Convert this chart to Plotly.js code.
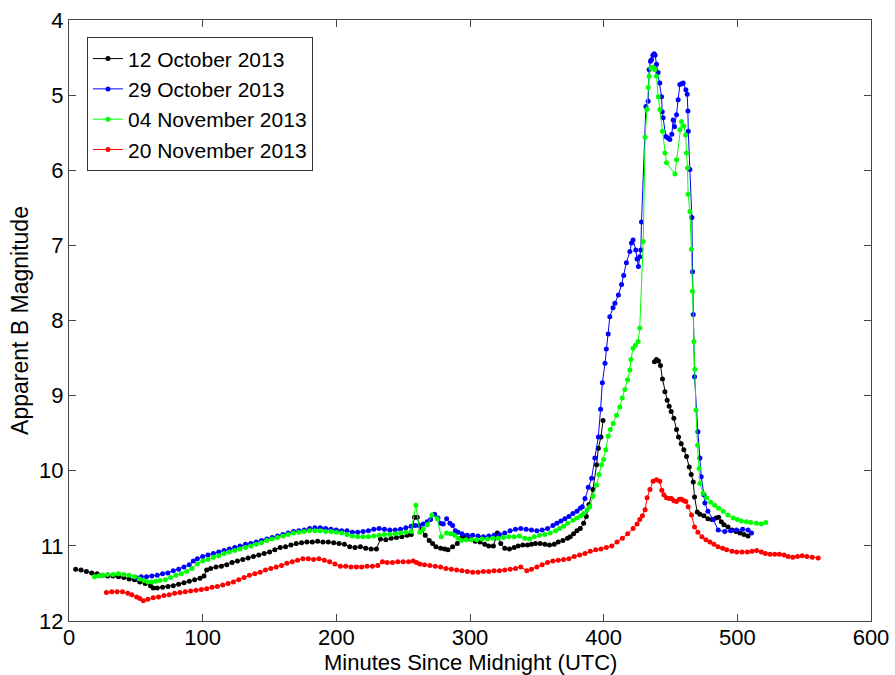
<!DOCTYPE html>
<html>
<head>
<meta charset="utf-8">
<script src="https://cdn.plot.ly/plotly-3.0.1.min.js"></script>
<style>html,body{margin:0;padding:0;background:#fff;}#chart{width:895px;height:675px;}</style>
</head>
<body>
<div id="chart"></div>
<script>
// 12 October 2013
const xOct12 = [5,9,13,17,21,25,29,33,37,41,45,49,53,57,61,63,66,70,74,78,82,86,90,94,98,101,103,106,110,114,118,122,126,130,134,138,142,146,150,154,158,162,166,170,174,178,182,186,190,194,198,202,206,210,214,218,222,226,230,233,237,241,245,249,253,256,258.5,260.5,263.5,266.5,269.5,272,274.5,278,281,283.5,287,290.5,293.5,296.5,300,304,307.5,311,314,317.5,320.5,323,326,329.5,333,336,339.5,343,346,349,352.5,356,359.5,363,366,369.5,373,375,377.5,380,382.5,385,387,389,392,394.7,396,398,399.5,null,438,439.5,441,442.5,444,445.8,447.5,449,450.5,452.5,454.5,456,458,460,462,464,465.5,467,468,470,472,475,478,481,484,486,488,490,493,496,499,502,505,508];
const yOct12 = [11.31,11.32,11.34,11.36,11.37,11.39,11.40,11.40,11.41,11.42,11.44,11.45,11.48,11.50,11.53,11.56,11.56,11.55,11.54,11.53,11.51,11.49,11.47,11.45,11.43,11.40,11.32,11.30,11.28,11.27,11.25,11.22,11.20,11.18,11.16,11.14,11.12,11.10,11.08,11.05,11.02,11.01,10.99,10.97,10.96,10.95,10.95,10.94,10.95,10.95,10.96,10.97,10.98,11.01,11.02,11.01,11.03,11.04,11.04,10.91,10.92,10.90,10.89,10.88,10.86,10.85,10.62,10.62,10.78,10.86,10.93,10.97,11.01,11.03,11.04,11.05,11.01,10.97,10.90,10.87,10.91,10.94,10.95,10.98,11.00,11.00,10.83,10.97,11.03,11.04,11.02,11.00,10.99,10.99,10.98,10.97,10.97,10.98,10.99,10.98,10.95,10.93,10.90,10.88,10.84,10.80,10.77,10.70,10.61,10.45,10.25,9.92,9.70,9.55,9.33,null,8.55,8.52,8.54,8.60,8.78,8.95,9.06,9.14,9.21,9.30,9.45,9.55,9.64,9.72,9.81,9.95,10.05,10.15,10.35,10.55,10.58,10.60,10.64,10.65,10.63,10.62,10.68,10.72,10.75,10.79,10.81,10.83,10.85,10.87];

// 29 October 2013
const xOct29 = [50,54,58,62,66,70,74,78,82,86,90,93,96,100,104,108,112,116,120,124,128,132,136,140,144,148,152,156,160,164,168,172,176,180,184,188,192,196,200,204,208,212,216,220,224,228,232,236,240,244,248,252,256,259,262,265,268,270.5,273.5,276,278,280,282.5,285,287,289,291,294,298,302,306,310,314,318,322,326,330,334,338,342,346,350,354,358,362,365,368,371,374,377,380,382.5,384,386,388.5,391,393.4,396,397.7,399,401,402,403.4,404.6,407,408.4,411,413.4,415,417,419.6,420.8,422,424,425,426,427,427.8,428.3,431.6,433.3,434,435,435.8,436.8,437.8,438.5,439.5,440.7,442,443.3,443.8,444.5,446.5,448,449.5,451,452,453,454.5,455.7,457,458.5,459.5,461.5,462.5,463,463.3,464.5,466,466.5,467,468,470.5,472,473,475,475.7,478,482,485.7,490.6,495,499.4,504,508,510.6];
const yOct29 = [11.42,11.41,11.41,11.40,11.39,11.37,11.36,11.33,11.31,11.28,11.25,11.20,11.17,11.14,11.12,11.10,11.08,11.06,11.04,11.02,11.00,10.98,10.97,10.95,10.93,10.91,10.89,10.87,10.85,10.83,10.81,10.80,10.79,10.77,10.76,10.76,10.77,10.78,10.79,10.80,10.80,10.82,10.82,10.81,10.80,10.78,10.77,10.78,10.79,10.79,10.78,10.76,10.74,10.73,10.73,10.71,10.68,10.65,10.58,10.63,10.70,10.71,10.64,10.70,10.73,10.80,10.82,10.84,10.86,10.86,10.87,10.88,10.87,10.86,10.85,10.83,10.80,10.78,10.77,10.78,10.79,10.80,10.79,10.77,10.73,10.70,10.67,10.64,10.61,10.57,10.54,10.50,10.48,10.37,10.22,10.10,9.83,9.55,9.18,8.83,8.57,8.38,8.18,7.95,7.83,7.77,7.66,7.52,7.40,7.23,7.08,6.97,6.93,7.06,7.18,7.28,7.15,7.06,6.69,5.15,5.08,4.66,4.55,4.53,4.47,4.45,4.47,4.59,4.70,4.84,5.02,5.22,5.30,5.55,5.57,5.59,5.52,5.33,5.42,5.26,5.06,4.86,4.85,4.84,4.93,4.99,5.21,5.48,5.99,6.63,7.35,7.92,8.75,9.48,9.83,10.08,10.32,10.43,10.54,10.65,10.79,10.81,10.80,10.79,10.78,10.79,10.83];

// 04 November 2013
const xNov04 = [19,22,25,29,33,37,41,45,49,53,56,59,62,65,68,72,76,80,84,88,92,96,100,104,108,112,116,120,124,128,132,136,140,144,148,152,156,160,164,168,172,176,180,184,188,192,196,200,204,208,212,216,220,224,228,232,236,240,244,248,252,256,259.5,262.5,265,268,271.5,275.5,278.5,282.5,285.5,288.5,291,293.5,297,301,305,309,313,317,321,325,329,333,337,341,344.5,348,352,356,360,364,367,370,373,377,380,383,385,387.5,389.6,392,394.7,396.5,398.4,400,401.6,403.4,405,407.1,409.6,412.1,413.9,415.9,417.9,419.6,420.4,422,423.8,425.8,427,429.6,431,432.3,433.3,434,435.3,436.8,438.3,439.5,440.8,442,444,445.8,447,453.3,454.5,457,458.2,460,461.3,462,462.7,463.2,464.5,465.6,466.4,467.5,468.2,469,470.2,471.4,472,474.4,477,480,483,486,489.4,493,496.9,500,503,506.8,510,514.3,518,521.3];
const yNov04 = [11.41,11.40,11.39,11.38,11.38,11.37,11.38,11.39,11.41,11.44,11.46,11.48,11.48,11.47,11.46,11.45,11.42,11.39,11.37,11.34,11.30,11.24,11.20,11.18,11.15,11.13,11.10,11.08,11.06,11.04,11.02,11.00,10.98,10.96,10.93,10.91,10.89,10.87,10.85,10.83,10.82,10.81,10.80,10.80,10.80,10.81,10.81,10.82,10.83,10.85,10.87,10.88,10.88,10.88,10.87,10.86,10.85,10.85,10.84,10.83,10.82,10.81,10.46,10.82,10.78,10.72,10.59,10.64,10.88,10.83,10.84,10.86,10.90,10.93,10.92,10.92,10.92,10.91,10.91,10.90,10.90,10.89,10.88,10.88,10.87,10.90,10.91,10.88,10.86,10.85,10.83,10.80,10.77,10.74,10.70,10.66,10.63,10.60,10.57,10.52,10.48,10.34,10.19,10.05,9.92,9.85,9.72,9.54,9.45,9.37,9.26,9.15,9.03,8.92,8.79,8.66,8.52,8.37,8.33,8.28,8.10,6.95,5.56,5.19,4.90,4.75,4.64,4.63,4.66,4.75,5.02,5.19,5.48,5.77,5.90,6.05,5.86,5.46,5.35,5.41,5.53,5.77,5.97,6.32,6.55,7.05,7.61,8.28,8.65,9.19,9.66,9.97,10.17,10.30,10.36,10.42,10.46,10.50,10.54,10.59,10.63,10.65,10.67,10.68,10.69,10.70,10.71,10.69];

// 20 November 2013
const xNov20 = [28,32,36,40,44,47,50.6,53,55.6,59,63,67,71,75,79,83,87,91,95,99,103,107,111,115,119,123,127,131,135,139,143,147,151,155,159,163,167,171,175,179,183,187,191,195,199,203,207,211,215,219,223,227,231,234.5,238,242,246,250,254,257.5,260,262.5,266,270,274,278,282,286,290,294,298,302,306,310,314,318,322,326,330,334,338,342.5,346,350,354,358,362,366,370,374,378,382,386,390,394,398,402,406,410,414,418,422,425,427,429,431,432.5,434.6,437,439.5,442,443.5,445,447,449,450.7,452.5,454.5,456.5,458.2,460,461.5,463.2,465.7,468,470.5,473.5,476.5,479.5,482.5,485.5,489,492,496,499.5,503.5,507.5,511,514.5,518,521,524.5,528,531.5,535,538,541.5,545,548.5,552,556,560.5];
const yNov20 = [11.62,11.61,11.61,11.61,11.63,11.65,11.68,11.70,11.73,11.71,11.69,11.68,11.66,11.65,11.63,11.62,11.61,11.60,11.59,11.58,11.57,11.55,11.54,11.52,11.50,11.48,11.45,11.42,11.39,11.37,11.35,11.32,11.30,11.28,11.26,11.23,11.21,11.19,11.17,11.17,11.18,11.17,11.19,11.21,11.24,11.27,11.27,11.28,11.28,11.28,11.27,11.27,11.26,11.21,11.22,11.22,11.21,11.21,11.21,11.20,11.22,11.24,11.25,11.26,11.27,11.28,11.30,11.31,11.32,11.33,11.34,11.35,11.35,11.34,11.34,11.33,11.33,11.32,11.31,11.30,11.28,11.33,11.31,11.28,11.25,11.22,11.20,11.19,11.18,11.17,11.14,11.12,11.10,11.07,11.05,11.04,11.02,11.00,10.95,10.90,10.84,10.77,10.71,10.65,10.60,10.52,10.36,10.25,10.14,10.12,10.14,10.26,10.32,10.36,10.37,10.37,10.40,10.41,10.38,10.38,10.40,10.41,10.48,10.59,10.75,10.82,10.88,10.92,10.95,10.98,11.01,11.03,11.05,11.07,11.08,11.08,11.08,11.07,11.06,11.08,11.10,11.11,11.11,11.11,11.12,11.14,11.15,11.14,11.13,11.14,11.15,11.16];

const seriesNames = ['12 October 2013','29 October 2013','04 November 2013','20 November 2013'];
const seriesColors = ['#000000','#0000ff','#00ff00','#ff0000'];
const xTicks = [0,100,200,300,400,500,600];
const yTicks = [4,5,6,7,8,9,10,11,12];
const xTitle = 'Minutes Since Midnight (UTC)';
const yTitle = 'Apparent B Magnitude';

const xs = [xOct12, xOct29, xNov04, xNov20];
const ys = [yOct12, yOct29, yNov04, yNov20];

const traces = xs.map((x, i) => ({
  type: 'scatter',
  mode: 'lines+markers',
  name: seriesNames[i],
  x: x,
  y: ys[i],
  connectgaps: false,
  line: {color: seriesColors[i], width: 1},
  marker: {color: seriesColors[i], size: 5, symbol: 'circle'}
}));

const fontFam = 'Arial, "Liberation Sans", Helvetica, sans-serif';
const axFont = {family: fontFam, size: 22, color: '#000'};
const titleFont = {family: fontFam, size: 23, color: '#000'};
const layout = {
  width: 895,
  height: 675,
  margin: {l: 69, r: 24, t: 20, b: 54, pad: 0},
  paper_bgcolor: '#ffffff',
  plot_bgcolor: '#ffffff',
  font: axFont,
  showlegend: true,
  legend: {
    x: 0.0224, y: 0.971, xanchor: 'left', yanchor: 'top',
    bgcolor: '#ffffff', bordercolor: '#333', borderwidth: 1,
    font: {family: fontFam, size: 21, color: '#000'},
    tracegroupgap: 0
  },
  xaxis: {
    range: [0, 600],
    tickvals: xTicks,
    ticktext: xTicks.map(String),
    ticks: 'inside', ticklen: 7, tickcolor: '#444',
    ticklabelstandoff: -3,
    showline: true, linecolor: '#444', linewidth: 1, mirror: 'allticks',
    showgrid: false, zeroline: false,
    tickfont: axFont
  },
  yaxis: {
    range: [12, 4],
    tickvals: yTicks,
    ticktext: yTicks.map(String),
    ticks: 'inside', ticklen: 7, tickcolor: '#444',
    showline: true, linecolor: '#444', linewidth: 1, mirror: 'allticks',
    showgrid: false, zeroline: false,
    tickfont: axFont,
    title: {text: yTitle, font: titleFont, standoff: 4}
  },
  annotations: [{
    text: xTitle, xref: 'paper', yref: 'paper', x: 0.5, y: 0,
    xanchor: 'center', yanchor: 'top', yshift: -28, showarrow: false,
    font: {family: fontFam, size: 22, color: '#000'}, borderpad: 0
  }]
};

Plotly.newPlot('chart', traces, layout, {displayModeBar: false, staticPlot: true});
</script>
</body>
</html>
